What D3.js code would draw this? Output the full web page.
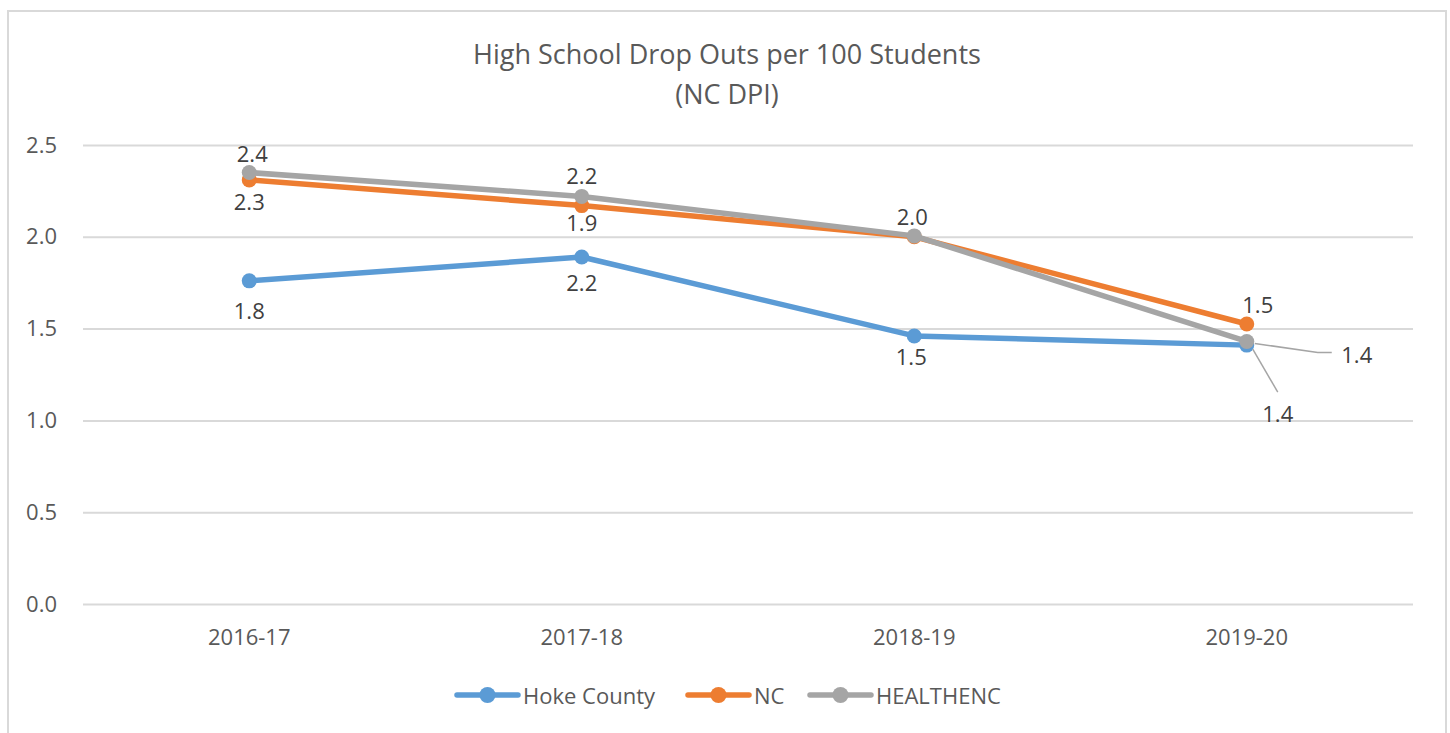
<!DOCTYPE html>
<html><head><meta charset="utf-8">
<script src="https://cdn.jsdelivr.net/npm/d3@7"></script>
<style>
body{margin:0;background:#fff;}
svg{display:block;font-family:"Open Sans",sans-serif;}
</style></head>
<body><svg id="c" width="1450" height="733"></svg>
<script>
const categories = ["2016-17","2017-18","2018-19","2019-20"];
const seriesNames = ["Hoke County","NC","HEALTHENC"];
const hokeValues = [1.76, 1.89, 1.46, 1.41];
const ncValues = [2.31, 2.17, 2.00, 1.525];
const healthencValues = [2.35, 2.22, 2.005, 1.43];
const hokeLabels = ["1.8","2.2","1.5","1.4"];
const ncLabels = ["2.3","1.9",null,"1.5"];
const healthencLabels = ["2.4","2.2","2.0","1.4"];
const yTicks = [0,0.5,1.0,1.5,2.0,2.5];
const titleLines = ["High School Drop Outs per 100 Students","(NC DPI)"];

const colors = ["#5B9BD5","#ED7D31","#A5A5A5"];
// label offsets (layout only) relative to point
const labelOffsets = [
  [[0,29],[0,25],[-3,20],[31,68]],
  [[0,21],[0,16],null,[11,-20]],
  [[3,-20],[0,-21],[-2,-20],[110,13]]
];
const series = [
  {name:seriesNames[0], values:hokeValues, labels:hokeLabels, color:colors[0]},
  {name:seriesNames[1], values:ncValues, labels:ncLabels, color:colors[1]},
  {name:seriesNames[2], values:healthencValues, labels:healthencLabels, color:colors[2]}
];

const svg = d3.select("#c");
const textColor = "#595959";
svg.append("rect").attr("x",8).attr("y",11).attr("width",1438).attr("height",740)
  .attr("fill","#fff").attr("stroke","#D9D9D9").attr("stroke-width",2);

const pL=83, pR=1413, pT=145, pB=604;
const x = d3.scaleBand().domain(categories).range([pL,pR]).padding(0);
const y = d3.scaleLinear().domain([0,2.5]).range([pB,pT]);
const cx = c => x(c) + x.bandwidth()/2;

svg.append("text").attr("x",727).attr("y",53).attr("text-anchor","middle")
  .attr("dominant-baseline","central").attr("font-size",27).attr("fill",textColor).text(titleLines[0]);
svg.append("text").attr("x",727).attr("y",93).attr("text-anchor","middle")
  .attr("dominant-baseline","central").attr("font-size",27).attr("fill",textColor).text(titleLines[1]);

const yAxis = d3.axisLeft(y).tickValues(yTicks).tickSize(-(pR-pL)).tickFormat(d3.format(".1f")).tickPadding(26);
const gy = svg.append("g").attr("transform",`translate(${pL},0)`).call(yAxis);
gy.select(".domain").remove();
gy.selectAll(".tick line").attr("stroke","#D9D9D9").attr("stroke-width",2);
gy.selectAll(".tick text").attr("font-size",22).attr("fill",textColor).attr("font-family","Open Sans");

const xAxis = d3.axisBottom(x).tickSize(0).tickPadding(25);
const gx = svg.append("g").attr("transform",`translate(0,${pB})`).call(xAxis);
gx.select(".domain").remove();
gx.selectAll(".tick text").attr("font-size",22).attr("fill",textColor).attr("font-family","Open Sans");

const line = d3.line().x((d,i)=>cx(categories[i])).y(d=>y(d));

series.forEach(s=>{
  svg.append("path").datum(s.values).attr("d",line).attr("fill","none")
    .attr("stroke",s.color).attr("stroke-width",5.5).attr("stroke-linejoin","round");
  svg.selectAll(null).data(s.values).enter().append("circle")
    .attr("cx",(d,i)=>cx(categories[i])).attr("cy",d=>y(d)).attr("r",7.5).attr("fill",s.color);
});

const p3x = cx(categories[3]);
const gy3 = y(healthencValues[3]), by3 = y(hokeValues[3]);
svg.append("polyline").attr("points",[[p3x+8,gy3+2],[p3x+71,gy3+11],[p3x+85,gy3+11]].join(" "))
  .attr("fill","none").attr("stroke","#A5A5A5").attr("stroke-width",1.5);
svg.append("line").attr("x1",p3x+6).attr("y1",by3+4).attr("x2",p3x+31).attr("y2",by3+47)
  .attr("stroke","#A5A5A5").attr("stroke-width",1.5);

series.forEach((s,si)=>{
  s.values.forEach((v,i)=>{
    if(!s.labels[i]) return;
    const o = labelOffsets[si][i];
    svg.append("text").attr("x",cx(categories[i])+o[0]).attr("y",y(v)+o[1])
      .attr("text-anchor","middle").attr("dominant-baseline","central")
      .attr("font-size",22).attr("fill","#404040").text(s.labels[i]);
  });
});

const legendX = [457,688,810];
series.forEach((s,i)=>{
  const g = svg.append("g").attr("transform",`translate(${legendX[i]},695)`);
  g.append("line").attr("x1",0).attr("x2",61).attr("stroke",s.color).attr("stroke-width",5.5).attr("stroke-linecap","round");
  g.append("circle").attr("cx",30.5).attr("r",8).attr("fill",s.color);
  g.append("text").attr("x",66).attr("dominant-baseline","central").attr("font-size",22).attr("fill",textColor).text(s.name);
});
</script></body></html>
